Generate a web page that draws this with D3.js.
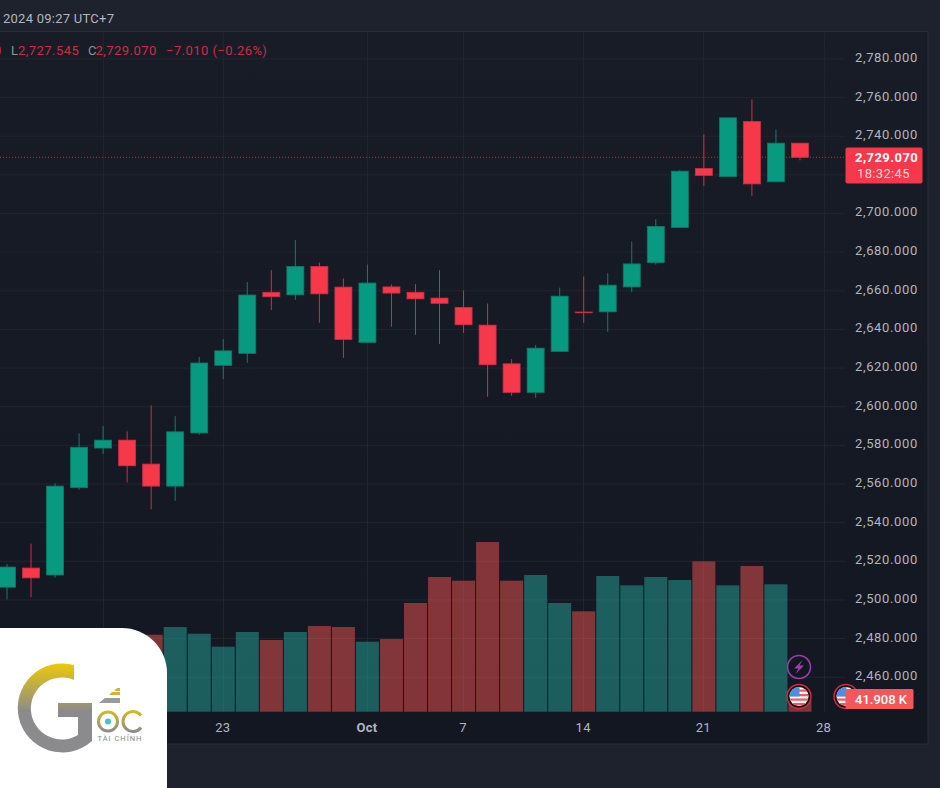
<!DOCTYPE html>
<html>
<head>
<meta charset="utf-8">
<script src="https://cdn.jsdelivr.net/npm/d3@7"></script>
<style>
  html, body { margin: 0; padding: 0; background: #1e222d; overflow: hidden; }
  text { font-family: Roboto, "Liberation Sans", sans-serif; }
</style>
</head>
<body>
<div id="chart-wrapper"></div>
<script>
let width = 940
let height = 788

let dates = [
  "Sep 10", "Sep 11", "Sep 12", "Sep 13", "Sep 16", "Sep 17", "Sep 18", "Sep 19", "Sep 20",
  "Sep 23", "Sep 24", "Sep 25", "Sep 26", "Sep 27", "Sep 30", "Oct 1", "Oct 2", "Oct 3", "Oct 4",
  "Oct 7", "Oct 8", "Oct 9", "Oct 10", "Oct 11", "Oct 14", "Oct 15", "Oct 16", "Oct 17", "Oct 18",
  "Oct 21", "Oct 22", "Oct 23", "Oct 24", "Oct 25", "Oct 28"
]
let opens = [
  2506.6, 2516.5, 2512.9, 2558.1, 2578.6, 2582.7, 2570.3, 2558.9, 2586.4,
  2621.4, 2627.6, 2659.2, 2657.9, 2672.6, 2661.9, 2633.3, 2662.0, 2659.2, 2656.2,
  2651.4, 2642.2, 2622.2, 2607.4, 2628.6, 2649.0, 2649.1, 2662.0, 2674.6, 2692.8,
  2723.3, 2719.1, 2747.6, 2716.4, 2736.4
]
let highs = [
  2518.6, 2529.1, 2560.3, 2586.2, 2590.0, 2587.2, 2600.7, 2595.1, 2625.7,
  2635.0, 2664.5, 2670.7, 2686.2, 2674.6, 2666.4, 2673.6, 2663.3, 2663.4, 2670.7,
  2660.2, 2653.4, 2624.6, 2631.9, 2661.6, 2667.4, 2669.1, 2685.5, 2697.1, 2722.4,
  2740.9, 2749.5, 2759.1, 2743.5, 2736.4
]
let lows = [
  2500.3, 2501.4, 2511.5, 2557.0, 2575.6, 2560.8, 2546.9, 2551.3, 2585.5,
  2614.3, 2622.7, 2650.0, 2655.3, 2643.4, 2625.3, 2633.3, 2641.4, 2637.2, 2632.4,
  2638.2, 2605.1, 2605.6, 2604.6, 2628.6, 2643.4, 2638.8, 2659.3, 2673.6, 2692.8,
  2714.3, 2719.1, 2709.1, 2716.4, 2727.5
]
let closes = [
  2517.0, 2511.4, 2558.9, 2579.0, 2582.7, 2569.4, 2558.9, 2587.0, 2622.6,
  2628.9, 2657.8, 2656.9, 2672.6, 2658.4, 2634.8, 2664.0, 2658.8, 2655.8, 2653.5,
  2642.4, 2621.7, 2607.4, 2630.3, 2657.2, 2648.6, 2662.9, 2673.9, 2693.3, 2721.9,
  2719.7, 2749.5, 2715.3, 2736.4, 2729.07
]
// in thousands. the first six sit behind the logo, so those are guesses
let volumes = [
  250, 245, 280, 265, 240, 255, 268.7, 295.6, 272.2,
  226.9, 278.2, 250.2, 278.2, 299.1, 295.6, 244.3, 253.7, 379.4, 470.1,
  457.2, 592.3, 457.2, 477.1, 379.4, 350.4, 473.6, 441.1, 470.1, 459.6,
  524.9, 441.1, 508.5, 444.6, 41.908
]
let priceTicks = [
  2460, 2480, 2500, 2520, 2540, 2560, 2580, 2600, 2620, 2640, 2660, 2680,
  2700, 2720, 2740, 2760, 2780
]
// 2720 has its grid line but the last price label sits on top of its text
let priceLabels = priceTicks.filter(d => d != 2720)
let timeTicks = ["Sep 16", "Sep 23", "Oct 1", "Oct 7", "Oct 14", "Oct 21", "Oct 28"]
let timeLabels = ["16", "23", "Oct", "7", "14", "21", "28"]

let green = "#089981"
let red = "#f7374a"

let panel = {left: 0, right: 845, top: 32, bottom: 712}

let svg = d3
  .select("#chart-wrapper")
  .append("svg")
  .attr("width", width)
  .attr("height", height)
  .style("display", "block")

let defs = svg.append("defs")
let bgGrad = defs.append("linearGradient").attr("id", "bg").attr("x1", 0).attr("x2", 0).attr("y1", 0).attr("y2", 1)
bgGrad.append("stop").attr("offset", "0%").attr("stop-color", "#181c27")
bgGrad.append("stop").attr("offset", "100%").attr("stop-color", "#131722")

let logoGrad = defs.append("linearGradient").attr("id", "logoG").attr("gradientUnits", "userSpaceOnUse")
  .attr("x1", 0).attr("x2", 0).attr("y1", 664).attr("y2", 712)
logoGrad.append("stop").attr("offset", "0%").attr("stop-color", "#eac80c")
logoGrad.append("stop").attr("offset", "100%").attr("stop-color", "#8b8a8c")

let ocGrad = defs.append("linearGradient").attr("id", "logoO").attr("gradientUnits", "userSpaceOnUse")
  .attr("x1", 0).attr("x2", 0).attr("y1", 710).attr("y2", 732)
ocGrad.append("stop").attr("offset", "0%").attr("stop-color", "#d9bb1c")
ocGrad.append("stop").attr("offset", "100%").attr("stop-color", "#8b8a8c")

defs.append("clipPath").attr("id", "flagClip1").append("circle").attr("cx", 799).attr("cy", 696.5).attr("r", 9.5)
defs.append("clipPath").attr("id", "flagClip2").append("circle").attr("cx", 846).attr("cy", 696.5).attr("r", 9.5)

// outer frame and chart pane
svg.append("rect").attr("width", width).attr("height", height).attr("fill", "#1e222d")
svg.append("rect")
  .attr("x", -2)
  .attr("y", 31.5)
  .attr("width", 930)
  .attr("height", 712.5)
  .attr("fill", "url(#bg)")
  .attr("stroke", "#2a2e39")

// Scales
let x = d3.scalePoint().domain(dates).range([7, 824])
let y = d3.scaleLinear().domain([2460, 2780]).range([677.2, 58.9])
let yVol = d3.scaleLinear().domain([0, 600]).range([711.7, 539.8])

// Grid
let grid = svg.append("g").attr("class", "grid")
grid.selectAll(".h").data(priceTicks).enter().append("line")
  .attr("x1", panel.left).attr("x2", panel.right)
  .attr("y1", d => y(d)).attr("y2", d => y(d))
  .attr("stroke", "#21252f").attr("stroke-width", 1)
grid.selectAll(".v").data(timeTicks).enter().append("line")
  .attr("x1", d => Math.floor(x(d)) + 0.5).attr("x2", d => Math.floor(x(d)) + 0.5)
  .attr("y1", panel.top).attr("y2", panel.bottom)
  .attr("stroke", "#21252f").attr("stroke-width", 1)

// Volume
let candles = d3.range(closes.length)
svg.append("g").selectAll("rect").data(candles).enter().append("rect")
  .attr("x", i => x(dates[i]) - 11.5)
  .attr("width", 23)
  .attr("y", i => yVol(volumes[i]))
  .attr("height", i => yVol(0) - yVol(volumes[i]))
  .attr("fill", i => closes[i] >= opens[i] ? "#26a69a" : "#ef5350")
  .attr("fill-opacity", 0.5)

// Last price line
svg.append("line")
  .attr("x1", 0).attr("x2", panel.right)
  .attr("y1", y(closes[33])).attr("y2", y(closes[33]))
  .attr("stroke", "#f23645").attr("stroke-opacity", 0.7)
  .attr("stroke-dasharray", "1 2")

// Candles
let candle = svg.append("g").selectAll("g").data(candles).enter().append("g")
candle.append("line")
  .attr("x1", i => x(dates[i]))
  .attr("x2", i => x(dates[i]))
  .attr("y1", i => y(highs[i]))
  .attr("y2", i => y(lows[i]))
  .attr("stroke", i => closes[i] >= opens[i] ? green : red)
  .attr("stroke-opacity", 0.8)
  .attr("stroke-width", 1)
candle.append("rect")
  .attr("x", i => x(dates[i]) - 8.5)
  .attr("width", 17)
  .attr("y", i => y(Math.max(opens[i], closes[i])))
  .attr("height", i => Math.max(y(Math.min(opens[i], closes[i])) - y(Math.max(opens[i], closes[i])), 0.5))
  .attr("fill", i => closes[i] >= opens[i] ? green : red)
  .attr("stroke", i => closes[i] >= opens[i] ? "#0b7a69" : "#c93140")
  .attr("stroke-width", 0.8)

// Y Axis
let yAxis = d3.axisRight(y).tickValues(priceLabels).tickFormat(d3.format(",.3f")).tickSize(0).tickPadding(0)
let yG = svg.append("g").attr("class", "yAxis").attr("transform", "translate(855,-1.7)").call(yAxis)
yG.select(".domain").remove()
yG.selectAll("text")
  .attr("fill", "#b2b5be")
  .attr("font-size", 13)
  .attr("letter-spacing", 0.65)
  .style("font-family", "Roboto")

// X Axis
let xAxis = d3.axisBottom(x).tickValues(timeTicks).tickFormat((d, i) => timeLabels[i]).tickSize(0).tickPadding(0)
let xG = svg.append("g").attr("class", "xAxis").attr("transform", "translate(-1,723)").call(xAxis)
xG.select(".domain").remove()
xG.selectAll("text")
  .attr("fill", "#b2b5be")
  .attr("font-size", 13)
  .attr("letter-spacing", 0.3)
  .attr("font-weight", d => d == "Oct 1" ? "bold" : "normal")
  .style("font-family", "Roboto")

// Header and legend
svg.append("text").attr("x", 3).attr("y", 22.5).attr("fill", "#b2b5be")
  .attr("font-size", 13).attr("letter-spacing", 0.25).text("2024 09:27 UTC+7")

let legendParts = [
  {px: -6, t: "0", c: "#c9303f"},
  {px: 11, t: "L", c: "#8f929b"},
  {px: 18, t: "2,727.545", c: "#c9303f"},
  {px: 88, t: "C", c: "#8f929b"},
  {px: 95.5, t: "2,729.070", c: "#c9303f"},
  {px: 166, t: "−7.010 (−0.26%)", c: "#c9303f"}
]
svg.append("g").selectAll("text").data(legendParts).enter().append("text")
  .attr("x", d => d.px)
  .attr("y", 54.5)
  .attr("font-size", 13)
  .attr("letter-spacing", 0.45)
  .attr("fill", d => d.c)
  .text(d => d.t)

// Event icons
function flag(cx, clip, g) {
  let cy = 696.5
  g.append("circle").attr("cx", cx).attr("cy", cy).attr("r", 12).attr("fill", "#131722").attr("stroke", "#d92b3a").attr("stroke-width", 1.4)
  let f = g.append("g").attr("clip-path", `url(#${clip})`)
  f.append("rect").attr("x", cx - 10).attr("y", cy - 10).attr("width", 20).attr("height", 20).attr("fill", "#f5f5f5")
  f.selectAll("rect.stripe").data([-7, -2.5, 2, 6.5]).enter().append("rect")
    .attr("class", "stripe")
    .attr("x", cx - 10).attr("y", d => cy + d).attr("width", 20).attr("height", 2.2).attr("fill", "#ef5a5f")
  f.append("rect").attr("x", cx - 10).attr("y", cy - 10).attr("width", 10.5).attr("height", 10).attr("fill", "#4a90e2")
}
let icons = svg.append("g")
icons.append("circle").attr("cx", 799).attr("cy", 667).attr("r", 11.5)
  .attr("fill", "#131722").attr("stroke", "#9c3fb0").attr("stroke-width", 1.5)
icons.append("path").attr("d", "M802.5 660 L794 668.5 L798.5 668.5 L795.5 674 L804 665.5 L799.5 665.5 Z").attr("fill", "#9c3fb0")
flag(846, "flagClip2", icons)
flag(799, "flagClip1", icons)

// Price labels
let lastBox = svg.append("g")
lastBox.append("rect").attr("x", 845.5).attr("y", 147.5).attr("width", 77).attr("height", 36).attr("rx", 2).attr("fill", red)
lastBox.append("text").attr("x", 855).attr("y", 161.5).attr("fill", "#fff").attr("font-size", 13)
  .attr("font-weight", "bold").attr("letter-spacing", 0.45).text("2,729.070")
lastBox.append("text").attr("x", 857).attr("y", 178).attr("fill", "#ffd5d8").attr("font-size", 13)
  .attr("letter-spacing", 0.35).text("18:32:45")

let volBox = svg.append("g")
volBox.append("rect").attr("x", 845.5).attr("y", 689).attr("width", 68).attr("height", 20).attr("rx", 1.5).attr("fill", "#f0585c")
volBox.append("text").attr("x", 855).attr("y", 704).attr("fill", "#fff").attr("font-size", 13).attr("font-weight", 500).text("41.908 K")

// Logo
let logo = svg.append("g")
logo.append("path").attr("d", "M0 628 H122 A45 45 0 0 1 167 673 V788 H0 Z").attr("fill", "#fff")
logo.append("path")
  .attr("d", "M74 665 A44.5 44.5 0 1 0 92 741 V703 H58 V717 H78 V735 A31 31 0 1 1 74 680 Z")
  .attr("fill", "url(#logoG)")
logo.append("circle").attr("cx", 108).attr("cy", 721.5).attr("r", 9.5).attr("fill", "none").attr("stroke", "url(#logoO)").attr("stroke-width", 3)
logo.append("circle").attr("cx", 108).attr("cy", 721.5).attr("r", 3).attr("fill", "#45c4c6")
logo.append("path").attr("d", "M141 715.5 A10 10 0 1 0 141 727.5").attr("fill", "none").attr("stroke", "url(#logoO)").attr("stroke-width", 3)
logo.append("path").attr("d", "M99 703 H120 V698 H105 Z").attr("fill", "#9a999b")
logo.append("path").attr("d", "M109 695 H120 V692 H112 Z").attr("fill", "#cdb53c")
logo.append("path").attr("d", "M114 691 H120 V688 H117 Z").attr("fill", "#cdb53c")
logo.append("text").attr("x", 97.5).attr("y", 741).attr("font-size", 7.5).attr("letter-spacing", 1).attr("fill", "#8b8a8c").text("TÀI CHÍNH")
</script>
</body>
</html>
